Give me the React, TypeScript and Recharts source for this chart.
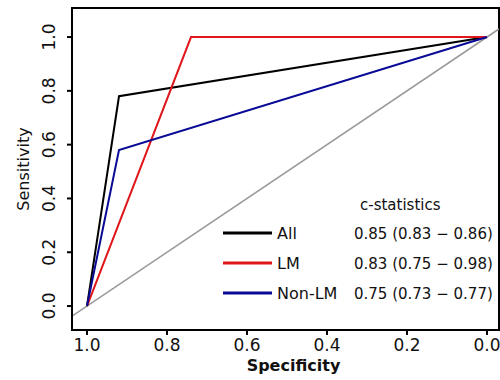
import { Line, LineChart, ReferenceArea, XAxis, YAxis } from "recharts"

// ROC curves: specificity (x, reversed) vs sensitivity (y)
const allSpec = [1.0, 0.92, 0.0]
const allSens = [0.0, 0.78, 1.0]
const lmSpec = [1.0, 0.74, 0.0]
const lmSens = [0.0, 1.0, 1.0]
const nonLmSpec = [1.0, 0.92, 0.0]
const nonLmSens = [0.0, 0.58, 1.0]

const groups = ["All", "LM", "Non-LM"]
const cStats = ["0.85 (0.83 \u2212 0.86)", "0.83 (0.75 \u2212 0.98)", "0.75 (0.73 \u2212 0.77)"]
const colors = ["#000000", "#e0161b", "#0a0a96"]

const xTicks = [1.0, 0.8, 0.6, 0.4, 0.2, 0.0]
const yTicks = [0.0, 0.2, 0.4, 0.6, 0.8, 1.0]
const xDomain: [number, number] = [-0.03, 1.0375]
const yDomain: [number, number] = [-0.089, 1.108]

const FONT = "'DejaVu Sans', sans-serif"

const toPoints = (spec: number[], sens: number[]) =>
  spec.map((s, i) => ({ spec: s, sens: sens[i] }))

const curves = [
  toPoints(allSpec, allSens),
  toPoints(lmSpec, lmSens),
  toPoints(nonLmSpec, nonLmSens),
]

// chance line, sensitivity = 1 - specificity, across the whole plot
const diagonal = [
  { spec: xDomain[1], sens: 1 - xDomain[1] },
  { spec: xDomain[0], sens: 1 - xDomain[0] },
]

const XTick = ({ x, y, payload }: any) => (
  <text x={x} y={y + 14} textAnchor="middle" fontFamily={FONT} fontSize={17} fill="#111">
    {payload.value.toFixed(1)}
  </text>
)

const YTick = ({ x, y, payload }: any) => {
  const tx = x - 10
  return (
    <text
      x={tx}
      y={y}
      transform={`rotate(-90 ${tx} ${y})`}
      textAnchor="middle"
      fontFamily={FONT}
      fontSize={17}
      fill="#111"
    >
      {payload.value.toFixed(1)}
    </text>
  )
}

function StatsLegend() {
  return (
    <svg
      width={280}
      height={115}
      style={{ position: "absolute", left: 220, top: 190, display: "block" }}
    >
      <text x={140} y={20} fontFamily={FONT} fontSize={15} fill="#111">
        c-statistics
      </text>
      {groups.map((g, i) => (
        <g key={g}>
          <line x1={3} x2={52} y1={43 + i * 30} y2={43 + i * 30} stroke={colors[i]} strokeWidth={3} />
          <text x={57} y={49 + i * 30} fontFamily={FONT} fontSize={16} fill="#111">
            {g}
          </text>
          <text x={134} y={49 + i * 30} fontFamily={FONT} fontSize={15} fill="#111">
            {cStats[i]}
          </text>
        </g>
      ))}
    </svg>
  )
}

export default function App() {
  return (
    <div style={{ position: "absolute", left: 0, top: 0, width: 500, height: 380, background: "#fff" }}>
      <LineChart width={500} height={380} margin={{ top: 8, right: 1, bottom: 0, left: 0 }}>
        <XAxis
          type="number"
          dataKey="spec"
          domain={xDomain}
          ticks={xTicks}
          reversed
          allowDataOverflow
          height={50}
          tickSize={5}
          tick={<XTick />}
          tickLine={{ stroke: "#000", strokeWidth: 2 }}
          axisLine={{ stroke: "#000", strokeWidth: 2 }}
          label={{
            value: "Specificity",
            position: "insideBottom",
            offset: 9,
            dx: 8,
            fontFamily: FONT,
            fontSize: 16,
            fontWeight: "bold",
            fill: "#111",
          }}
        />
        <YAxis
          type="number"
          dataKey="sens"
          domain={yDomain}
          ticks={yTicks}
          allowDataOverflow
          width={72}
          tickSize={5}
          tick={<YTick />}
          tickLine={{ stroke: "#000", strokeWidth: 2 }}
          axisLine={{ stroke: "#000", strokeWidth: 2 }}
          label={{
            value: "Sensitivity",
            angle: -90,
            position: "insideLeft",
            offset: 23,
            textAnchor: "middle",
            fontFamily: FONT,
            fontSize: 16,
            fill: "#111",
          }}
        />
        <ReferenceArea
          x1={xDomain[0]}
          x2={xDomain[1]}
          y1={yDomain[0]}
          y2={yDomain[1]}
          fill="none"
          stroke="#000"
          strokeWidth={2}
          ifOverflow="visible"
        />
        <Line
          data={diagonal}
          dataKey="sens"
          type="linear"
          stroke="#9a9a9a"
          strokeWidth={1.6}
          dot={false}
          legendType="none"
          isAnimationActive={false}
        />
        {curves.map((pts, i) => (
          <Line
            key={groups[i]}
            data={pts}
            dataKey="sens"
            name={groups[i]}
            type="linear"
            stroke={colors[i]}
            strokeWidth={2}
            dot={false}
            isAnimationActive={false}
          />
        ))}
      </LineChart>
      <StatsLegend />
    </div>
  )
}
